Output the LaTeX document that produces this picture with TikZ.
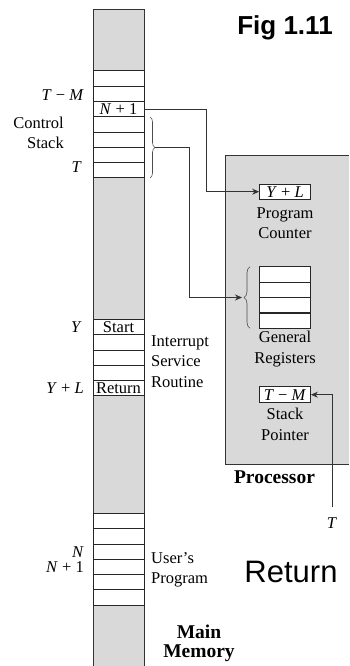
\documentclass[tikz,border=0pt]{standalone}
\usepackage{fontspec}
\setmainfont{Liberation Serif}
\newfontfamily\figsans{Liberation Sans}
\usetikzlibrary{arrows.meta,decorations.pathreplacing}

\newcommand{\vr}[1]{\textit{#1}}
\tikzset{
	cell/.style={draw=black!85, fill=white, line width=.8pt, minimum width=51pt,
		minimum height=15.3pt, inner sep=0pt, outer sep=0pt,
		font=\fontsize{16.5}{18}\selectfont},
	tag/.style={inner sep=0pt, font=\fontsize{16.5}{18}\selectfont},
	lbl/.style={inner sep=0pt, align=center, font=\fontsize{16.5}{20.5}\selectfont},
	boldlbl/.style={inner sep=0pt, align=center, font=\fontsize{19.5}{19}\selectfont\bfseries},
	conn/.style={line width=.8pt, draw=black!80},
	arrowed/.style={-{Stealth[length=7pt,width=6pt]}},
	curly/.style={decorate, decoration={brace, amplitude=#1}, line width=.6pt, draw=black!70},
}

\begin{document}
\begin{tikzpicture}[x=1pt,y=-1pt]
		\useasboundingbox (0,0) rectangle (349,666);
		% main memory column
		\draw[fill=gray!30, line width=.8pt, draw=black!80] (93,9.3) rectangle (144,668);
		\foreach \t [count=\i] in {{},{},{\vr{N} + 1},{},{},{},{}}
			\node[cell] (cs\i) at (118.5,{63.05+15.3*\i}) {\t};
		\foreach \t [count=\i] in {Start,{},{},{},Return}
			\node[cell] (isr\i) at (118.5,{311.65+15.3*\i}) {\t};
		\foreach \i in {1,...,6}
			\node[cell] (up\i) at (118.5,{505.65+15.3*\i}) {};
		\draw[curly=5pt] (150,117) -- (150,178);
		\coordinate (csb) at (155,147.5);
		% left labels
		\node[tag, anchor=east] (tm) at (84,95) {\vr{T} − \vr{M}};
		\node[lbl, anchor=east, align=right] (cstk) at (64,133) {Control\\Stack};
		\node[tag, anchor=east] (tt) at (82,167) {\vr{T}};
		\node[tag, anchor=east] (yy) at (82,327) {\vr{Y}};
		\node[tag, anchor=east] (yl) at (84,388) {\vr{Y} + \vr{L}};
		\node[tag, anchor=east] (nn) at (84,552.2) {\vr{N}};
		\node[tag, anchor=east] (n1) at (84,567.5) {\vr{N} + 1};
		% right labels
		\node[lbl, anchor=west, align=left] (isrl) at (151,361.5) {Interrupt\\Service\\Routine};
		\node[lbl, anchor=west, align=left] (upl) at (151,570) {User's\\Program};
		\node[boldlbl] (mm) at (199,643) {Main\\Memory};
		% processor
		\fill[gray!30] (225.7,155.7) rectangle (349,464);
		\draw[line width=1pt, black!80] (349,155.7) -- (225.7,155.7) -- (225.7,464) -- (349,464);
		\node[cell, minimum width=51.7pt] (pc) at (285,191.7) {\vr{Y} + \vr{L}};
		\node[lbl] (pcl) at (285,223) {Program\\Counter};
		\foreach \i in {1,...,4}
			\node[cell, minimum width=51.7pt] (rg\i) at (285,{259+15.4*\i}) {};
		\draw[curly=6pt] (250,328.3) -- (250,266.7);
		\coordinate (rgb) at (242,297.5);
		\node[lbl] (grl) at (285,349) {General\\Registers};
		\node[cell, minimum width=51.7pt, minimum height=16pt] (sp) at (285,394.7) {\vr{T} − \vr{M}};
		\node[lbl] (spl) at (285,424.5) {Stack\\Pointer};
		\node[boldlbl] (proc) at (274.5,477) {Processor};
		\node[tag] (tin) at (332,523) {\vr{T}};
		% connectors
		\draw[conn, arrowed] (cs3.east) -- ++(62,0) |- (pc.west);
		\draw[conn, arrowed] (csb) -- ++(34,0) |- (rgb);
		\draw[conn, arrowed, shorten <=10pt] (tin.north) |- (sp.east);
		% captions
		\node[font=\figsans\bfseries\fontsize{26}{26}\selectfont] (fig) at (285,28) {Fig 1.11};
		\node[font=\figsans\fontsize{31}{31}\selectfont] (ret) at (291,572) {Return};
	\end{tikzpicture}
\end{document}
